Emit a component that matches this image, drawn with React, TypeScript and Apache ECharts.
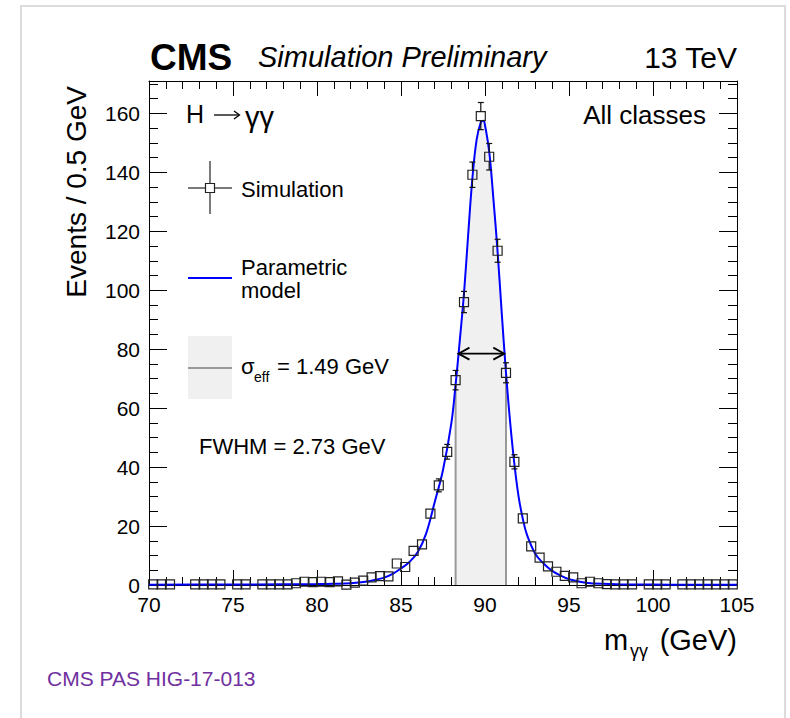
import React, { useEffect, useRef } from "react";
import * as echarts from "echarts";

// ---- Data ----
const BIN_CENTERS = [
  70.25, 70.75, 71.25, 72.75, 73.25, 73.75, 74.25, 75.25, 75.75, 76.75, 77.25, 77.75, 78.25, 78.75,
  79.25, 79.75, 80.25, 80.75, 81.25, 81.75, 82.25, 82.75, 83.25, 83.75, 84.25, 84.75, 85.25, 85.75,
  86.25, 86.75, 87.25, 87.75, 88.25, 88.75, 89.25, 89.75, 90.25, 90.75, 91.25, 91.75, 92.25, 92.75,
  93.25, 93.75, 94.25, 94.75, 95.25, 95.75, 96.25, 96.75, 97.25, 97.75, 98.25, 98.75, 99.75, 100.25,
  100.75, 101.75, 102.25, 102.75, 103.25, 103.75, 104.25, 104.75,
];
const EVENTS = [
  0.2, 0.2, 0.2, 0.2, 0.2, 0.2, 0.2, 0.2, 0.2, 0.2, 0.2, 0.2, 0.2, 0.6,
  1.1, 1.0, 1.1, 1.0, 1.2, 0.1, 0.8, 1.5, 2.6, 3.0, 2.9, 7.3, 6.1, 11.6,
  13.8, 24.2, 33.8, 45.2, 69.5, 96.0, 139.2, 159.1, 145.3, 113.4, 72.0, 41.8, 22.6, 13.1,
  9.3, 6.3, 4.5, 3.1, 2.6, 0.6, 1.1, 0.6, 0.3, 0.2, 0.2, 0.2, 0.2, 0.2,
  0.2, 0.2, 0.2, 0.2, 0.2, 0.2, 0.2, 0.2,
];
const ERRORS = [
  0.1, 0.1, 0.1, 0.1, 0.1, 0.1, 0.1, 0.1, 0.1, 0.1, 0.1, 0.1, 0.1, 0.3,
  0.4, 0.4, 0.4, 0.4, 0.4, 0.1, 0.3, 0.5, 0.6, 0.7, 0.6, 1.0, 0.9, 1.3,
  1.4, 1.8, 2.2, 2.5, 3.3, 3.6, 4.3, 4.6, 4.5, 3.9, 3.4, 2.4, 1.8, 1.4,
  1.1, 0.9, 0.8, 0.6, 0.6, 0.3, 0.4, 0.3, 0.2, 0.1, 0.1, 0.1, 0.1, 0.1,
  0.1, 0.1, 0.1, 0.1, 0.1, 0.1, 0.1, 0.1,
];

const MODEL_X = [
  70, 74, 78, 80, 81, 82, 83, 83.5, 84, 84.5, 85, 85.5, 86, 86.5, 87, 87.5, 88, 88.25, 88.5, 88.75,
  89, 89.25, 89.5, 89.75, 89.9, 90, 90.25, 90.5, 90.75, 91, 91.25, 91.5, 91.75, 92, 92.25, 92.5,
  93, 93.5, 94, 94.5, 95, 95.5, 96, 97, 98, 100, 102, 105,
];
const MODEL_Y = [
  0.1, 0.15, 0.25, 0.3, 0.4, 0.6, 1.2, 1.8, 2.5, 3.8, 5.6, 7.8, 11.2, 17.5, 28, 39, 55, 68, 83, 99,
  119, 138, 151, 157, 157.5, 156, 147, 131, 113, 92, 72, 55, 41, 30, 22.5, 17,
  10.5, 7.2, 4.8, 3.2, 2.0, 1.3, 0.8, 0.4, 0.25, 0.15, 0.1, 0.08,
];

const SIGMA_LO = 88.25;
const SIGMA_HI = 91.25;
const FWHM_LO = 88.42;
const FWHM_HI = 91.15;
const HALF_MAX = 78.5;

const X_MIN = 70;
const X_MAX = 105;
const Y_MAX = 171;

const FONT = "'Liberation Sans', Arial, Helvetica, sans-serif";

export default function App() {
  const ref = useRef<HTMLDivElement>(null);

  useEffect(() => {
    if (!ref.current) return;
    const chart = echarts.init(ref.current, undefined, { renderer: "svg" });

    const pointData = BIN_CENTERS.map((x, i) => [x, EVENTS[i], ERRORS[i]]);
    const modelData = MODEL_X.map((x, i) => [x, MODEL_Y[i]]);
    const areaData = modelData.filter((d) => d[0] >= SIGMA_LO && d[0] <= SIGMA_HI);
    const modelAt = (x: number) => {
      const i = MODEL_X.indexOf(x);
      return i >= 0 ? MODEL_Y[i] : 0;
    };
    const sigmaLines = [
      [SIGMA_LO, modelAt(SIGMA_LO)],
      [SIGMA_HI, modelAt(SIGMA_HI)],
    ];

    const black = "#000";
    const xAxisBase = {
      type: "value",
      min: X_MIN,
      max: X_MAX,
      interval: 5,
      splitLine: { show: false },
      axisLine: { show: true, onZero: false, lineStyle: { color: black, width: 1 } },
      axisTick: { show: true, inside: true, length: 15, lineStyle: { color: black, width: 1 } },
      minorTick: { show: true, splitNumber: 5, length: 8, lineStyle: { color: black, width: 1 } },
    };
    const yAxisBase = (pos: string, interval: number, len: number, labels: boolean, line: boolean) => ({
      type: "value",
      position: pos,
      min: 0,
      max: Y_MAX,
      interval,
      splitLine: { show: false },
      axisLine: { show: line, onZero: false, lineStyle: { color: black, width: 1 } },
      axisTick: { show: true, inside: true, length: len, lineStyle: { color: black, width: 1 } },
      axisLabel: labels
        ? { show: true, fontSize: 21, color: black, fontFamily: FONT, margin: 9, showMaxLabel: false }
        : { show: false },
    });

    const txt = (text: string, x: number, y: number, size: number, extra: any = {}) => ({
      type: "text",
      x,
      y,
      z: 100,
      style: {
        text,
        fill: black,
        fontSize: size,
        fontFamily: FONT,
        align: "left",
        verticalAlign: "middle",
        ...extra,
      },
    });

    chart.setOption({
      animation: false,
      backgroundColor: "#fff",
      grid: { left: 149, right: 53, top: 81, bottom: 133, show: false, outerBoundsMode: "none" },
      xAxis: [
        {
          ...xAxisBase,
          position: "bottom",
          axisLabel: { show: true, fontSize: 21, color: black, fontFamily: FONT, margin: 9 },
        },
        { ...xAxisBase, position: "top", axisLabel: { show: false } },
      ],
      yAxis: [
        yAxisBase("left", 20, 18, true, true),
        yAxisBase("left", 5, 9, false, false),
        yAxisBase("right", 20, 18, false, true),
        yAxisBase("right", 5, 9, false, false),
      ],
      series: [
        {
          type: "line",
          data: areaData,
          smooth: 0.4,
          symbol: "none",
          lineStyle: { width: 0, color: "#f0f0f0" },
          areaStyle: { color: "#f0f0f0", opacity: 1 },
          z: 1,
        },
        {
          type: "custom",
          data: sigmaLines,
          encode: { x: 0, y: 1 },
          clip: false,
          z: 2,
          renderItem: (params: any, api: any) => {
            const x = api.value(0);
            const y = api.value(1);
            const b = api.coord([x, 0]);
            const t = api.coord([x, y]);
            return {
              type: "line",
              shape: { x1: b[0], y1: b[1], x2: t[0], y2: t[1] },
              style: { stroke: "#999", lineWidth: 2 },
            };
          },
        },
        {
          type: "line",
          data: modelData,
          smooth: 0.4,
          symbol: "none",
          lineStyle: { width: 2, color: "#0000ff" },
          z: 3,
        },
        {
          type: "custom",
          data: pointData,
          encode: { x: 0, y: 1 },
          clip: false,
          z: 4,
          renderItem: (params: any, api: any) => {
            const x = api.value(0);
            const y = api.value(1);
            const e = api.value(2);
            const c = api.coord([x, y]);
            const t = api.coord([x, y + e]);
            const b = api.coord([x, Math.max(0, y - e)]);
            const h = 4.5;
            const cap = 3;
            const st = { stroke: "#111", lineWidth: 1.2 };
            const children: any[] = [
              {
                type: "rect",
                shape: { x: c[0] - h, y: c[1] - h, width: 2 * h, height: 2 * h },
                style: { fill: "none", stroke: "#222", lineWidth: 1.2 },
              },
            ];
            if (t[1] < c[1] - h - 1) {
              children.push({ type: "line", shape: { x1: c[0], y1: c[1] - h, x2: c[0], y2: t[1] }, style: st });
              children.push({ type: "line", shape: { x1: c[0] - cap, y1: t[1], x2: c[0] + cap, y2: t[1] }, style: st });
            }
            if (b[1] > c[1] + h + 1) {
              children.push({ type: "line", shape: { x1: c[0], y1: c[1] + h, x2: c[0], y2: b[1] }, style: st });
              children.push({ type: "line", shape: { x1: c[0] - cap, y1: b[1], x2: c[0] + cap, y2: b[1] }, style: st });
            }
            return { type: "group", children };
          },
        },
        {
          type: "custom",
          data: [[FWHM_LO, FWHM_HI, HALF_MAX]],
          encode: { x: [0, 1], y: 2 },
          clip: false,
          z: 5,
          renderItem: (params: any, api: any) => {
            const l = api.coord([api.value(0), api.value(2)]);
            const r = api.coord([api.value(1), api.value(2)]);
            const st = { stroke: "#000", lineWidth: 1.8, fill: "none" };
            return {
              type: "group",
              children: [
                { type: "line", shape: { x1: l[0], y1: l[1], x2: r[0], y2: r[1] }, style: st },
                {
                  type: "polyline",
                  shape: { points: [[l[0] + 11, l[1] - 6], [l[0], l[1]], [l[0] + 11, l[1] + 6]] },
                  style: st,
                },
                {
                  type: "polyline",
                  shape: { points: [[r[0] - 11, r[1] - 6], [r[0], r[1]], [r[0] - 11, r[1] + 6]] },
                  style: st,
                },
              ],
            };
          },
        },
      ],
      graphic: [
        {
          type: "rect",
          z: 0,
          shape: { x: 21, y: 6, width: 764, height: 740 },
          style: { fill: "none", stroke: "#dcdcdc", lineWidth: 2 },
        },
        // Titles
        txt("CMS", 150, 57, 37, { fontWeight: "bold" }),
        txt("Simulation Preliminary", 258, 57, 29, { fontStyle: "italic" }),
        txt("13 TeV", 737, 57, 30, { align: "right" }),
        // Axis titles
        {
          type: "text",
          x: 76,
          y: 86,
          rotation: Math.PI / 2,
          z: 100,
          style: {
            text: "Events / 0.5 GeV",
            fill: black,
            fontSize: 28,
            fontFamily: FONT,
            align: "right",
            verticalAlign: "middle",
          },
        },
        txt("m", 604, 640, 29),
        txt("γγ", 630, 651, 18),
        txt("(GeV)", 737, 640, 29, { align: "right" }),
        // In-plot labels
        txt("H", 186, 114, 25),
        { type: "line", z: 100, shape: { x1: 214, y1: 115, x2: 239, y2: 115 }, style: { stroke: black, lineWidth: 1.3 } },
        {
          type: "polyline",
          z: 100,
          shape: { points: [[234, 111], [239.5, 115], [234, 119]] },
          style: { stroke: black, lineWidth: 1.3, fill: "none" },
        },
        txt("γγ", 245, 117, 29),
        txt("All classes", 706, 115, 26, { align: "right" }),
        // Legend: Simulation
        { type: "line", z: 100, shape: { x1: 210, y1: 161, x2: 210, y2: 183.5 }, style: { stroke: "#222", lineWidth: 1.2 } },
        { type: "line", z: 100, shape: { x1: 210, y1: 192.5, x2: 210, y2: 214 }, style: { stroke: "#222", lineWidth: 1.2 } },
        { type: "line", z: 100, shape: { x1: 188, y1: 188, x2: 205.5, y2: 188 }, style: { stroke: "#222", lineWidth: 1.2 } },
        { type: "line", z: 100, shape: { x1: 214.5, y1: 188, x2: 232, y2: 188 }, style: { stroke: "#222", lineWidth: 1.2 } },
        { type: "rect", z: 100, shape: { x: 205.5, y: 183.5, width: 9, height: 9 }, style: { fill: "none", stroke: "#222", lineWidth: 1.2 } },
        txt("Simulation", 241, 189, 22),
        // Legend: Parametric model
        { type: "line", z: 100, shape: { x1: 188, y1: 278, x2: 232, y2: 278 }, style: { stroke: "#0000ff", lineWidth: 2 } },
        txt("Parametric", 241, 267, 22),
        txt("model", 241, 290, 22),
        // Legend: sigma eff
        { type: "rect", z: 99, shape: { x: 188, y: 336, width: 44, height: 63 }, style: { fill: "#f0f0f0" } },
        { type: "line", z: 100, shape: { x1: 188, y1: 368, x2: 232, y2: 368 }, style: { stroke: "#999", lineWidth: 2 } },
        txt("σ", 241, 366, 22),
        txt("eff", 254, 377, 14),
        txt("= 1.49 GeV", 277, 366, 22),
        txt("FWHM = 2.73 GeV", 199, 446, 22),
        // Footer
        txt("CMS PAS HIG-17-013", 47, 678, 21, { fill: "#7030a0" }),
      ],
    });

    return () => chart.dispose();
  }, []);

  return (
    <div
      ref={ref}
      style={{ position: "fixed", left: 0, top: 0, width: 790, height: 718, background: "#fff" }}
    />
  );
}
